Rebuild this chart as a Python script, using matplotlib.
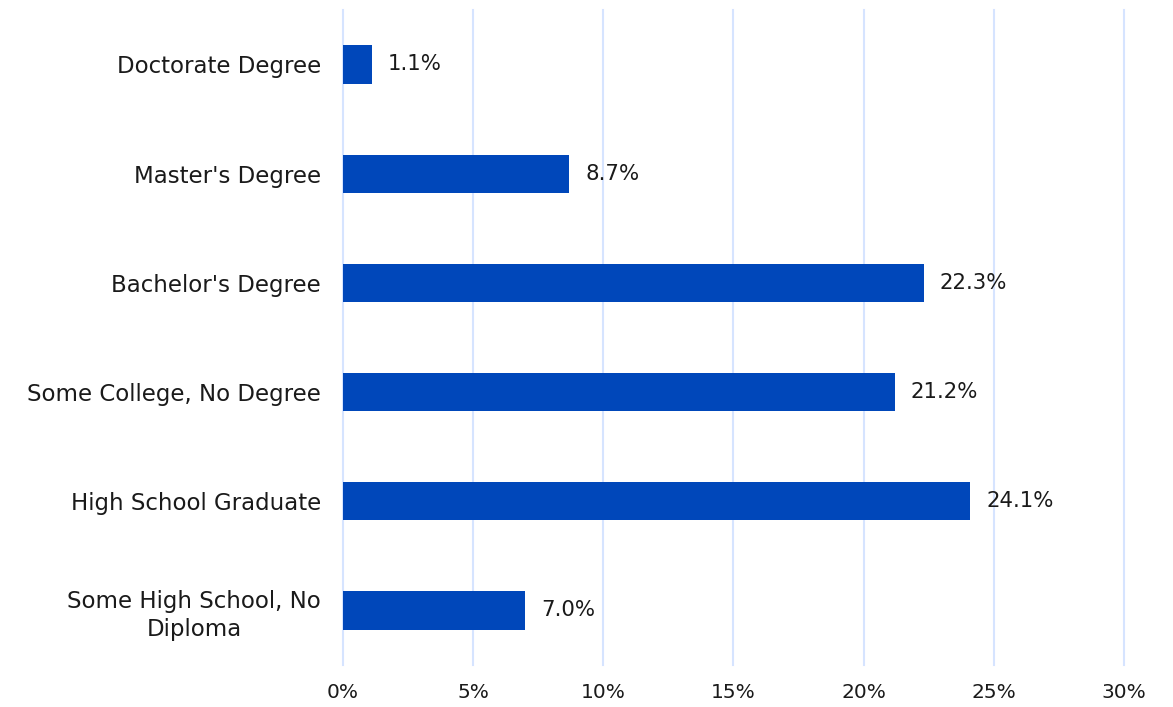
import matplotlib.pyplot as plt
import matplotlib.ticker as mticker

plt.rcParams["font.family"] = ["DejaVu Sans"]

categories = ["Doctorate Degree", "Master's Degree", "Bachelor's Degree",
              "Some College, No Degree", "High School Graduate",
              "Some High School, No\nDiploma"]
values = [1.1, 8.7, 22.3, 21.2, 24.1, 7.0]
x_ticks = [0, 5, 10, 15, 20, 25, 30]

fig = plt.figure(figsize=(11.73, 7.07), dpi=100)
ax = fig.add_axes([0.2924, 0.0594, 0.6658, 0.9266])

pos = list(range(len(categories)))
ax.barh(pos, values, height=0.35, color="#0047BA", zorder=3)
for p, v in zip(pos, values):
    ax.annotate("{:.1f}%".format(v), (v, p), xytext=(11.5, 0), textcoords="offset points",
                va="center", ha="left", fontsize=15.3, color="#1a1a1a")

ax.set_ylim(len(categories) - 0.5, -0.5)
ax.set_xlim(0, 30)
ax.set_yticks(pos)
ax.set_yticklabels(categories, fontsize=16.5, color="#1a1a1a",
                   multialignment="center", linespacing=1.3)
ax.set_xticks(x_ticks)
ax.xaxis.set_major_formatter(mticker.FuncFormatter(lambda v, _: "{:d}%".format(int(v))))
ax.tick_params(axis="x", labelsize=14.5, colors="#1a1a1a", length=0, pad=13)
ax.tick_params(axis="y", length=0, pad=16)
ax.grid(axis="x", color="#D6E4FF", linewidth=1.5, zorder=0)
for gl in ax.get_xgridlines():
    gl.set_clip_on(False)
for s in ax.spines.values():
    s.set_visible(False)

plt.savefig("out.png", dpi=100)
